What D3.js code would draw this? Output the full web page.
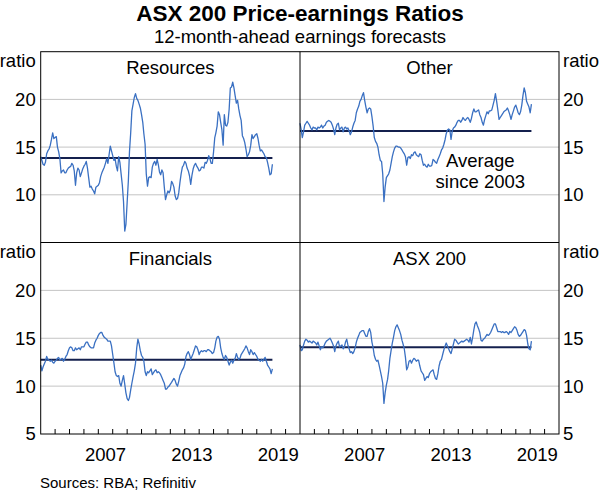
<!DOCTYPE html>
<html>
<head>
<meta charset="utf-8">
<script src="https://cdn.jsdelivr.net/npm/d3@7"></script>
<style>
body { margin: 0; background: #fff; }
text { font-family: 'Liberation Sans', Arial, sans-serif; fill: #000; }
</style>
</head>
<body>
<script>
// monthly observations, Jan 2003 to Feb 2019
var firstMonth = '2003-01';

var resources = [
    14.0, 13.6, 13.2, 13.1, 13.4, 14.3, 14.6, 14.8, 15.2, 15.8, 16.5, 15.9,
    16.0, 16.1, 15.0, 14.5, 13.8, 12.3, 12.5, 12.6, 12.3, 12.3, 12.6, 12.8,
    12.9, 13.0, 13.3, 13.1, 12.5, 11.0, 12.3, 12.8, 12.6, 11.9, 12.3, 12.7,
    13.0, 13.2, 13.5, 12.8, 11.8, 10.8, 10.9, 10.6, 10.4, 10.1, 10.8, 10.9,
    11.0, 11.3, 11.9, 12.3, 12.6, 12.9, 13.3, 13.8, 13.3, 14.2, 15.1, 14.6,
    14.1, 13.6, 13.8, 13.0, 12.5, 14.0, 13.4, 12.2, 11.0, 9.3, 6.2, 6.9,
    9.2, 11.5, 14.5, 16.5, 18.8, 19.5, 20.2, 20.6, 20.1, 19.9, 19.5, 19.1,
    18.4, 17.6, 16.4, 15.3, 12.2, 10.9, 11.8, 11.9, 11.8, 12.9, 13.3, 13.5,
    13.1, 13.7, 13.2, 12.4, 12.1, 12.6, 12.3, 10.8, 9.5, 10.0, 10.4, 10.2,
    10.5, 11.4, 11.2, 10.8, 9.9, 9.5, 9.6, 10.2, 11.3, 12.2, 12.9, 13.1,
    13.5, 13.3, 12.8, 12.5, 12.0, 11.1, 12.0, 12.7, 13.1, 13.3, 13.0, 12.8,
    12.5, 12.6, 12.9, 12.9, 12.8, 13.4, 13.3, 13.6, 14.1, 13.8, 13.3, 13.3,
    14.5, 16.0, 16.5, 17.2, 18.7, 18.4, 17.6, 16.8, 15.2, 18.4, 17.3, 17.2,
    17.6, 19.0, 21.2, 21.3, 21.8, 21.2, 20.4, 19.6, 19.9, 19.0, 18.3, 17.8,
    16.2, 15.9, 15.5, 14.8, 14.0, 14.2, 14.5, 15.2, 16.3, 15.9, 16.1, 16.3,
    16.4, 15.9, 15.2, 14.6, 14.7, 14.5, 14.3, 14.0, 13.9, 13.4, 12.8, 12.1,
    12.2, 13.2
];

var other = [
    17.5, 16.8, 16.0, 16.6, 17.3, 17.5, 17.7, 17.5, 17.3, 17.0, 16.8, 17.1,
    17.0, 17.0, 16.8, 17.1, 17.0, 17.1, 17.3, 17.0, 17.2, 17.3, 17.6, 17.7,
    17.8, 17.7, 17.6, 17.3, 16.9, 16.3, 17.0, 17.4, 17.5, 16.8, 17.0, 17.1,
    16.6, 17.0, 17.1, 16.9, 17.0, 16.7, 16.3, 16.6, 17.1, 17.5, 17.8, 18.6,
    19.0, 19.3, 19.8, 20.0, 20.4, 20.7, 19.9, 19.2, 18.6, 19.0, 19.1, 19.0,
    18.2, 17.2, 16.0, 15.6, 15.4, 15.0, 14.2, 13.6, 13.5, 12.2, 9.3, 10.8,
    11.8, 12.0, 12.2, 12.6, 13.3, 14.0, 14.5, 14.9, 15.1, 15.1, 15.0, 15.0,
    14.9, 14.7, 14.5, 14.3, 14.0, 13.1, 13.9, 14.0, 13.8, 14.2, 14.1, 14.4,
    14.5, 14.2, 14.1, 14.0, 14.3, 14.2, 13.6, 13.1, 13.2, 13.0, 12.9, 13.2,
    13.0, 13.0, 13.1, 13.7, 13.6, 13.4, 13.3, 13.7, 14.0, 14.3, 14.7, 14.9,
    15.3, 15.8, 16.4, 16.8, 16.9, 16.8, 15.8, 16.7, 17.0, 17.1, 17.3, 17.6,
    17.8, 17.8, 17.6, 17.8, 18.1, 17.9, 17.8, 18.0, 18.1, 17.9, 17.6, 18.0,
    18.6, 19.0, 18.7, 18.7, 18.8, 18.9, 18.4, 18.1, 17.6, 17.3, 17.9, 18.3,
    18.7, 18.5, 18.8, 18.8, 18.9, 19.4, 19.9, 20.6, 19.8, 18.9, 17.9, 18.1,
    18.3, 18.5, 18.7, 18.8, 18.9, 19.1, 18.8, 18.4, 17.9, 18.4, 18.8, 19.2,
    19.4, 19.0, 18.6, 18.4, 18.7, 19.4, 20.4, 21.2, 20.7, 19.8, 19.5, 19.2,
    18.6, 19.5
];

var financials = [
    12.2, 11.6, 12.0, 12.3, 12.6, 13.1, 12.8, 12.7, 12.6, 12.7, 12.5, 12.4,
    12.6, 12.7, 12.9, 13.0, 12.7, 12.8, 12.9, 12.6, 12.8, 13.1, 13.3, 13.7,
    14.0, 14.1, 14.0, 13.7, 13.7, 14.0, 13.8, 13.9, 14.0, 13.8, 14.1, 14.1,
    14.1, 14.4, 14.6, 14.6, 14.3, 14.1, 14.0, 14.0, 14.0, 14.5, 14.8, 15.0,
    15.3, 15.5, 15.6, 15.6, 15.3, 15.1, 15.0, 14.9, 14.7, 14.7, 14.7, 14.2,
    13.3, 12.4, 11.5, 11.1, 11.0, 11.1, 10.3, 10.0, 10.6, 11.1, 10.2, 9.3,
    8.7, 8.5, 8.8, 9.6, 10.3, 11.0, 11.6, 12.4, 14.0, 14.9, 14.4, 13.7,
    13.2, 13.0, 12.6, 11.5, 11.1, 11.5, 11.4, 11.6, 11.8, 11.2, 11.4, 11.6,
    11.7, 11.4, 11.5, 11.4, 11.2, 10.9, 10.6, 10.3, 9.7, 9.7, 9.9, 10.0,
    10.2, 10.4, 10.6, 10.8, 10.6, 10.2, 10.0, 10.5, 11.1, 11.4, 11.7, 11.9,
    12.3, 13.1, 13.4, 13.6, 13.3, 12.8, 13.1, 13.4, 13.8, 14.2, 14.1, 13.8,
    13.3, 13.6, 13.7, 13.6, 13.7, 13.7, 13.6, 13.8, 13.8, 13.7, 13.6, 13.4,
    13.5, 14.0, 14.7, 15.1, 15.2, 14.9, 14.0, 13.4, 13.0, 12.8, 13.2, 13.0,
    12.6, 12.2, 12.5, 12.7, 12.4, 12.7, 12.9, 13.4, 13.0, 12.8, 12.9, 13.3,
    13.5, 13.7, 13.9, 14.2, 14.0, 13.6, 13.3, 13.8, 13.6, 13.3, 13.5, 13.3,
    13.1, 12.8, 12.7, 12.6, 12.8, 12.6, 12.8, 13.0, 12.6, 12.2, 12.0, 11.8,
    11.3, 11.8
];

var asx200 = [
    14.3, 13.7, 13.8, 14.3, 14.7, 14.9, 14.8, 14.6, 14.7, 14.6, 14.5, 14.7,
    14.6, 14.5, 14.3, 14.6, 14.2, 13.8, 14.1, 14.0, 14.2, 14.5, 14.7, 14.8,
    14.9, 15.0, 14.8, 14.5, 14.2, 13.6, 14.2, 14.5, 14.7, 14.1, 14.2, 14.3,
    13.9, 14.1, 14.6, 14.9, 14.3, 13.9, 13.5, 13.6, 13.4, 13.6, 14.0, 14.6,
    15.0, 15.3, 15.6, 15.7, 15.8, 15.8, 15.5, 15.2, 15.2, 15.7, 16.0, 15.6,
    14.6, 14.0, 13.2, 12.8, 12.6, 12.7, 12.2, 11.6, 11.0, 10.3, 8.2, 9.3,
    10.1, 10.7, 11.6, 12.9, 13.7, 14.5, 15.1, 15.8, 16.2, 16.4, 16.1, 15.8,
    15.4, 14.8, 14.4, 13.9, 13.0, 11.7, 12.0, 12.6, 12.7, 12.4, 12.7, 12.9,
    12.8, 12.6, 12.7, 12.7, 12.1, 11.6, 11.4, 11.2, 10.6, 10.8, 11.0, 10.9,
    11.3, 11.5, 11.6, 11.7, 11.2, 10.8, 10.7, 11.3, 12.1, 12.6, 12.8, 13.3,
    13.8, 14.2, 14.5, 14.2, 13.9, 13.6, 13.4, 13.9, 14.4, 14.9, 14.8, 14.6,
    14.4, 14.5, 14.6, 14.7, 14.6, 14.7, 14.8, 14.9, 14.8, 14.6, 15.1, 14.4,
    15.1, 15.9, 16.5, 16.7, 16.3, 16.0, 15.6, 14.8, 14.7, 14.9, 15.0, 15.2,
    15.4, 15.3, 15.4, 15.6, 15.9, 16.2, 16.5, 16.5, 16.1, 15.7, 15.7, 15.7,
    15.6, 15.7, 15.6, 15.6, 15.7, 15.6, 15.4, 15.7, 15.6, 15.8, 16.0, 16.2,
    16.1, 15.8, 15.4, 15.2, 15.3, 15.5, 15.7, 15.9, 15.8, 15.3, 14.4, 13.9,
    13.8, 14.7
];

// averages since 2003
var averages = [13.85, 16.7, 12.75, 14.05];
var panelNames = ['Resources', 'Other', 'Financials', 'ASX 200'];
var topTicks = [10, 15, 20];
var bottomTicks = [5, 10, 15, 20];
var gridValues = [10, 15, 20];
var yearLabels = [2007, 2013, 2019];

var plotLeft = 40.7, plotRight = 559, plotTop = 51.7, plotBottom = 434;
var midX = 300, midY = 242.5;
var blue = '#3a70c2', navy = '#14204e';

var parseMonth = d3.timeParse('%Y-%m');
var start = parseMonth(firstMonth);
var dates = resources.map(function(d, i) { return d3.timeMonth.offset(start, i); });
var domainX = [new Date(2003, 0, 1), new Date(2021, 0, 1)];

var xCols = [
    d3.scaleTime().domain(domainX).range([plotLeft, midX]),
    d3.scaleTime().domain(domainX).range([midX, plotRight])
];
var yRows = [
    d3.scaleLinear().domain([5, 25]).range([midY, plotTop]),
    d3.scaleLinear().domain([5, 25]).range([plotBottom, midY])
];

var panels = [resources, other, financials, asx200].map(function(values, i) {
    return { name: panelNames[i], values: values, avg: averages[i], col: i % 2, row: Math.floor(i / 2) };
});

var svg = d3.select('body').append('svg')
    .attr('width', 600)
    .attr('height', 492);

svg.append('text')
    .attr('x', 300).attr('y', 20.5)
    .attr('text-anchor', 'middle')
    .attr('font-size', '22.5px')
    .attr('font-weight', 'bold')
    .text('ASX 200 Price-earnings Ratios');

svg.append('text')
    .attr('x', 300).attr('y', 43)
    .attr('text-anchor', 'middle')
    .attr('font-size', '18.5px')
    .text('12-month-ahead earnings forecasts');

panels.forEach(function(p) {
    var x = xCols[p.col], y = yRows[p.row];
    var g = svg.append('g');

    g.selectAll('line.grid')
        .data(gridValues)
        .enter().append('line')
        .attr('class', 'grid')
        .attr('x1', x.range()[0]).attr('x2', x.range()[1])
        .attr('y1', function(d) { return y(d); })
        .attr('y2', function(d) { return y(d); })
        .attr('stroke', '#c4c4c4')
        .attr('stroke-width', 1);

    if (p.row === 1) {
        g.selectAll('line.tick')
            .data(d3.timeYear.range(new Date(2004, 0, 1), new Date(2021, 0, 1)))
            .enter().append('line')
            .attr('class', 'tick')
            .attr('x1', function(d) { return x(d); })
            .attr('x2', function(d) { return x(d); })
            .attr('y1', plotBottom)
            .attr('y2', plotBottom - 5)
            .attr('stroke', '#000')
            .attr('stroke-width', 1);

        g.selectAll('text.year')
            .data(yearLabels)
            .enter().append('text')
            .attr('class', 'year')
            .attr('x', function(d) { return x(new Date(d, 6, 1)); })
            .attr('y', 461)
            .attr('text-anchor', 'middle')
            .attr('font-size', '18.5px')
            .text(function(d) { return d; });
    }

    g.append('line')
        .attr('x1', x(dates[0])).attr('x2', x(dates[dates.length - 1]))
        .attr('y1', y(p.avg)).attr('y2', y(p.avg))
        .attr('stroke', navy)
        .attr('stroke-width', 2);

    var line = d3.line()
        .x(function(d, i) { return x(dates[i]); })
        .y(function(d) { return y(d); });

    g.append('path')
        .datum(p.values)
        .attr('d', line)
        .attr('fill', 'none')
        .attr('stroke', blue)
        .attr('stroke-width', 1.3)
        .attr('stroke-linejoin', 'round');

    g.append('text')
        .attr('x', (x.range()[0] + x.range()[1]) / 2)
        .attr('y', y.range()[1] + 22.5)
        .attr('text-anchor', 'middle')
        .attr('font-size', '18.5px')
        .text(p.name);

    // y labels on the outer side
    var onLeft = p.col === 0;
    var labelX = onLeft ? plotLeft - 5 : plotRight + 4;
    g.selectAll('text.ylab')
        .data(p.row === 0 ? topTicks : bottomTicks)
        .enter().append('text')
        .attr('class', 'ylab')
        .attr('x', labelX)
        .attr('y', function(d) { return y(d); })
        .attr('dy', '0.35em')
        .attr('text-anchor', onLeft ? 'end' : 'start')
        .attr('font-size', '18.5px')
        .text(function(d) { return d; });

    g.append('text')
        .attr('x', labelX)
        .attr('y', y.range()[1] + 15)
        .attr('text-anchor', onLeft ? 'end' : 'start')
        .attr('font-size', '18.5px')
        .text('ratio');
});

// annotation in Other panel
var note = svg.append('text')
    .attr('x', xCols[1](new Date(2015, 6, 15)))
    .attr('y', yRows[0](12.93))
    .attr('text-anchor', 'middle')
    .attr('font-size', '18.5px');
note.append('tspan').text('Average');
note.append('tspan')
    .attr('x', xCols[1](new Date(2015, 6, 15)))
    .attr('dy', 21)
    .text('since 2003');

// frame and dividers
svg.append('rect')
    .attr('x', plotLeft).attr('y', plotTop)
    .attr('width', plotRight - plotLeft).attr('height', plotBottom - plotTop)
    .attr('fill', 'none')
    .attr('stroke', '#000')
    .attr('stroke-width', 1);
svg.append('line')
    .attr('x1', midX).attr('x2', midX)
    .attr('y1', plotTop).attr('y2', plotBottom)
    .attr('stroke', '#000');
svg.append('line')
    .attr('x1', plotLeft).attr('x2', plotRight)
    .attr('y1', midY).attr('y2', midY)
    .attr('stroke', '#000');

svg.append('text')
    .attr('x', 40).attr('y', 488)
    .attr('font-size', '15px')
    .text('Sources: RBA; Refinitiv');
</script>
</body>
</html>
